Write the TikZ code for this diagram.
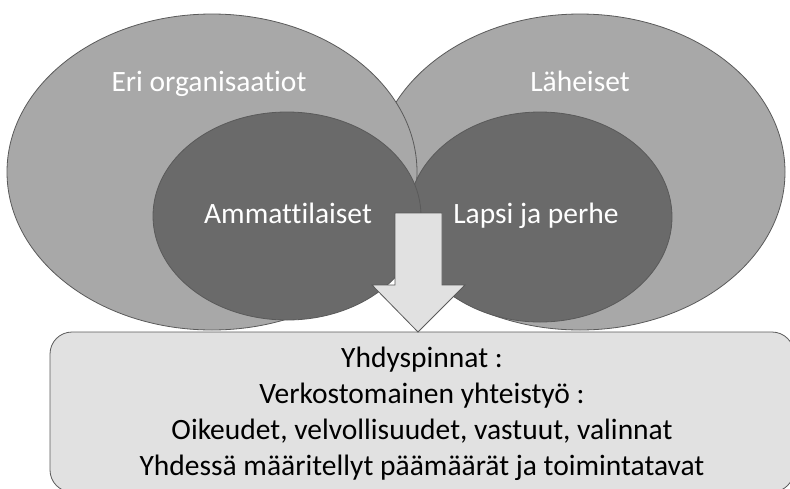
\documentclass[tikz,border=0pt]{standalone}
\usepackage{fontspec}
\setmainfont{Carlito}[Ligatures=NoCommon]
\usetikzlibrary{shapes.geometric}
\definecolor{outerfill}{HTML}{A8A8A8}
\definecolor{innerfill}{HTML}{6A6A6A}
\definecolor{boxfill}{HTML}{E1E1E1}
\definecolor{edgecol}{HTML}{5A5A5A}
\begin{document}
\begin{tikzpicture}[x=1pt,y=-1pt,
  blob/.style={ellipse, draw=edgecol, line width=0.8pt, inner sep=0pt, outer sep=0pt},
  outerblob/.style={blob, fill=outerfill},
  innerblob/.style={blob, fill=innerfill},
  lbl/.style={text=white, font=\fontsize{29.5}{36}\selectfont, anchor=base, inner sep=0pt},
  boxtxt/.style={text=black, font=\fontsize{29.5}{36}\selectfont, anchor=base, inner sep=0pt},
  bigarrow/.style={draw=edgecol, fill=boxfill, line width=0.8pt, line join=miter}]
\clip (0,0) rectangle (790,488);
\node[outerblob, minimum width=410pt, minimum height=316pt] (oR) at (580,172) {};
\node[outerblob, minimum width=410pt, minimum height=316pt] (oL) at (212,172) {};
\node[innerblob, minimum width=264pt, minimum height=210pt] (iR) at (540,217) {};
\node[innerblob, minimum width=268pt, minimum height=208pt] (iL) at (287,216) {};
\node[draw=edgecol, fill=boxfill, line width=0.8pt, rounded corners=22pt, minimum width=744pt, minimum height=160pt, inner sep=0pt] (box) at (422,412) {};
\draw[bigarrow] (395,213) -- (442,213) -- (442,285) -- (465,285) -- (418,332) -- (372,285) -- (395,285) -- cycle;
\node[lbl] (t1) at (209,91) {Eri organisaatiot};
\node[lbl] (t2) at (580,91) {Läheiset};
\node[lbl] (t3) at (288,223) {Ammattilaiset};
\node[lbl] (t4) at (536,223) {Lapsi ja perhe};
\node[boxtxt] (b1) at (422,367) {Yhdyspinnat :};
\node[boxtxt] (b2) at (422,403) {Verkostomainen yhteistyö :};
\node[boxtxt] (b3) at (422,439) {Oikeudet, velvollisuudet, vastuut, valinnat};
\node[boxtxt] (b4) at (422,475) {Yhdessä määritellyt päämäärät ja toimintatavat};
\end{tikzpicture}
\end{document}
